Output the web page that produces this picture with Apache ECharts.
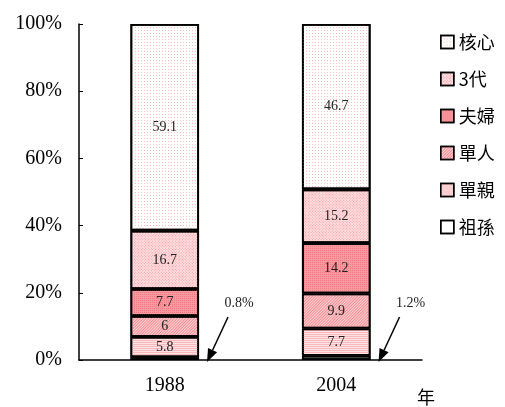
<!DOCTYPE html>
<html>
<head>
<meta charset="utf-8">
<script src="https://cdn.jsdelivr.net/npm/echarts/dist/echarts.min.js"></script>
<style>
  html, body { margin: 0; padding: 0; background: #fff; }
  #chart { width: 505px; height: 407px; }
</style>
</head>
<body>
<div id="chart"></div>
<script>
// 家庭型態比例 (raw values, bars are normalized to 100%)
const categories = ["1988", "2004"];
const zusun = [0.8, 1.2];   // 祖孫
const danqin = [5.8, 7.7];  // 單親
const danren = [6, 9.9];    // 單人
const fufu = [7.7, 14.2];   // 夫婦
const sandai = [16.7, 15.2]; // 3代
const hexin = [59.1, 46.7]; // 核心
const legendOrder = ["核心", "3代", "夫婦", "單人", "單親", "祖孫"];

const stackList = [
  { name: "祖孫", data: zusun },
  { name: "單親", data: danqin },
  { name: "單人", data: danren },
  { name: "夫婦", data: fufu },
  { name: "3代", data: sandai },
  { name: "核心", data: hexin },
];

const totals = categories.map((c, i) =>
  stackList.reduce((s, it) => s + it.data[i], 0)
);

const styles = {
  "祖孫": { color: "#ffffff", decal: { symbol: "none" } },
  "單親": {
    color: "#fde3e5",
    decal: { symbol: "rect", symbolSize: 1, dashArrayX: [1, 0], dashArrayY: [1, 1], color: "#f8b9bd" },
  },
  "單人": {
    color: "#fcd3d6",
    decal: { symbol: "rect", symbolSize: 1, dashArrayX: [1, 0], dashArrayY: [1, 1], color: "#f38c93" },
  },
  "夫婦": {
    color: "#f79aa0",
    decal: { symbol: "rect", symbolSize: 1, dashArrayX: [1, 1], dashArrayY: [1, 1], color: "#f07a82" },
  },
  "3代": {
    color: "#fde0e2",
    decal: { symbol: "rect", symbolSize: 1, dashArrayX: [1, 1], dashArrayY: [1, 1], color: "#f59aa1" },
  },
  "核心": {
    color: "#ffffff",
    decal: { symbol: "rect", symbolSize: 1, dashArrayX: [1, 2], dashArrayY: [1, 2], color: "#f7c0c4" },
  },
};

const serif = "Liberation Serif";
const sans = "Noto Sans CJK TC";

const chart = echarts.init(document.getElementById("chart"));

const series = stackList.map((it) => ({
  name: it.name,
  type: "bar",
  stack: "total",
  barWidth: "40%",
  data: it.data.map((v, i) => ({ value: (v / totals[i]) * 100, raw: v })),
  itemStyle: {
    color: styles[it.name].color,
    decal: styles[it.name].decal,
    borderColor: "#000",
    borderWidth: 1.8,
  },
  label: {
    show: it.name !== "祖孫",
    position: "inside",
    formatter: (p) => p.data.raw,
    fontFamily: serif,
    fontSize: 14,
    color: "#222",
  },
  emphasis: { disabled: true },
}));

const option = {
  animation: false,
  aria: { enabled: true, decal: { show: true } },
  grid: { left: 79, right: 83, top: 24, bottom: 47, outerBoundsMode: "none", containLabel: false },
  legend: {
    orient: "vertical",
    left: 440,
    top: 33,
    data: legendOrder,
    icon: "rect",
    itemWidth: 13,
    itemHeight: 13,
    itemGap: 19,
    padding: 0,
    itemStyle: { borderColor: "#000", borderWidth: 1.5 },
    textStyle: { fontFamily: sans, fontSize: 18, color: "#000" },
  },
  xAxis: {
    type: "category",
    data: categories,
    name: "年",
    nameLocation: "end",
    nameGap: -5,
    nameTextStyle: {
      fontFamily: sans,
      fontSize: 18,
      color: "#000",
      verticalAlign: "top",
      align: "left",
      padding: [28, 0, 0, 0],
    },
    axisLine: { lineStyle: { color: "#000", width: 1.5 } },
    axisTick: { inside: true, length: 5, lineStyle: { color: "#000" } },
    axisLabel: { fontFamily: serif, fontSize: 20, color: "#000", margin: 16 },
  },
  yAxis: {
    type: "value",
    min: 0,
    max: 100,
    interval: 20,
    axisLine: { show: true, lineStyle: { color: "#000", width: 1.5 } },
    axisTick: { show: true, inside: true, length: 4, lineStyle: { color: "#000" } },
    splitLine: { show: false },
    axisLabel: {
      formatter: "{value}%",
      fontFamily: serif,
      fontSize: 20,
      color: "#000",
      margin: 17,
    },
  },
  series: series,
};

chart.setOption(option);

// arrows pointing to the thin 祖孫 segment at the bottom of each bar
function buildArrows() {
  const graphics = [];
  categories.forEach((c, i) => {
    const base = chart.convertToPixel({ gridIndex: 0 }, [c, 0]);
    const layout = chart.getModel().getSeriesByIndex(0).getData().getItemLayout(i);
    const right = layout.x + layout.width;
    const x0 = right + 29, y0 = base[1] - 43;
    const x1 = right + 8, y1 = base[1] + 2;
    const dx = x1 - x0, dy = y1 - y0;
    const len = Math.sqrt(dx * dx + dy * dy);
    const ux = dx / len, uy = dy / len;
    const hl = 13, hw = 5;
    const bx = x1 - ux * hl, by = y1 - uy * hl;
    graphics.push({
      type: "line",
      shape: { x1: x0, y1: y0, x2: bx, y2: by },
      style: { stroke: "#000", lineWidth: 1.5 },
      silent: true,
    });
    graphics.push({
      type: "polygon",
      shape: {
        points: [
          [x1, y1],
          [bx - uy * hw, by + ux * hw],
          [bx + uy * hw, by - ux * hw],
        ],
      },
      style: { fill: "#000" },
      silent: true,
    });
    graphics.push({
      type: "text",
      x: right + 40,
      y: base[1] - 57,
      style: {
        text: zusun[i] + "%",
        fontFamily: serif,
        fontSize: 14,
        fill: "#222",
        align: "center",
        verticalAlign: "middle",
      },
      silent: true,
    });
  });
  chart.setOption({ graphic: graphics });
}
buildArrows();
</script>
</body>
</html>
